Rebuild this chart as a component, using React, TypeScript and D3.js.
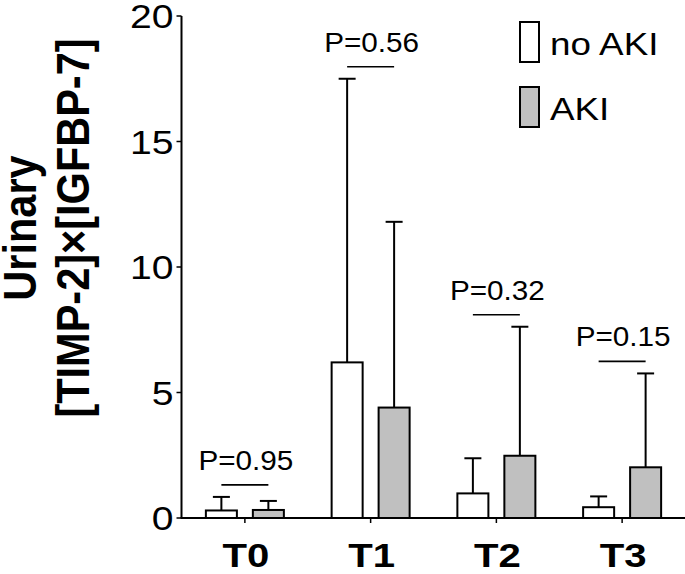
import React from 'react';
import * as d3 from 'd3';

const timepoints = ['T0', 'T1', 'T2', 'T3'];
const groups = ['no AKI', 'AKI'];
const noAkiMean = [0.3, 6.2, 0.98, 0.43];
const noAkiSd = [0.54, 11.3, 1.4, 0.43];
const akiMean = [0.32, 4.4, 2.48, 2.02];
const akiSd = [0.36, 7.4, 5.14, 3.74];
const pValues = ['P=0.95', 'P=0.56', 'P=0.32', 'P=0.15'];
const yTicks = [0, 5, 10, 15, 20];

const W = 685;
const H = 574;
const FONT = '"Liberation Sans", Arial, Helvetica, sans-serif';
const fills = ['#ffffff', '#c0c0c0'];

export default function App() {
  const x = d3.scaleBand<string>().domain(timepoints).range([182, 685]).padding(0);
  const x1 = d3.scaleBand<string>().domain(groups).range([-39, 39]).paddingInner(0.34);
  const y = d3.scaleLinear().domain([0, 20]).range([518, 16]);
  const bw = x1.bandwidth();
  const axisX = 181.5;

  const rows = timepoints.map((t, i) => ({
    t,
    cx: (x(t) ?? 0) + x.bandwidth() / 2,
    bars: [
      { g: groups[0], mean: noAkiMean[i], sd: noAkiSd[i] },
      { g: groups[1], mean: akiMean[i], sd: akiSd[i] },
    ],
    p: pValues[i],
  }));

  return (
    <div style={{ position: 'absolute', left: 0, top: 0 }}>
      <svg width={W} height={H} style={{ display: 'block', background: '#fff' }}>
        {/* y axis title, two rotated lines */}
        <g transform={`translate(36,228) scale(1.13,1) rotate(-90)`}>
          <text textAnchor="middle" fontFamily={FONT} fontWeight="bold" fontSize={41.5} fill="#000">Urinary</text>
        </g>
        <g transform={`translate(89,228) scale(1.13,1) rotate(-90)`}>
          <text textAnchor="middle" fontFamily={FONT} fontWeight="bold" fontSize={41.5} fill="#000">[TIMP-2]×[IGFBP-7]</text>
        </g>

        {/* bars + error bars */}
        {rows.map(r => (
          <g key={r.t}>
            {r.bars.map((b, j) => {
              const left = r.cx + (x1(b.g) ?? 0);
              const mid = left + bw / 2;
              return (
                <g key={b.g}>
                  <line x1={mid} x2={mid} y1={y(b.mean)} y2={y(b.mean + b.sd)} stroke="#000" strokeWidth={2} />
                  <line x1={mid - 8.5} x2={mid + 8.5} y1={y(b.mean + b.sd)} y2={y(b.mean + b.sd)} stroke="#000" strokeWidth={2} />
                  <rect x={left} y={y(b.mean)} width={bw} height={y(0) - y(b.mean)} fill={fills[j]} stroke="#000" strokeWidth={2} />
                </g>
              );
            })}
            {(() => {
              const top = d3.max(r.bars, b => y(0) - y(b.mean + b.sd)) ?? 0;
              const ly = y(0) - top - 12;
              const a = r.cx + (x1(groups[0]) ?? 0) + bw / 2;
              const c = r.cx + (x1(groups[1]) ?? 0) + bw / 2;
              return (
                <g>
                  <line x1={a} x2={c} y1={ly} y2={ly} stroke="#000" strokeWidth={1.6} />
                  <g transform={`translate(${r.cx + 1},${ly - 15}) scale(1.08,1)`}>
                    <text textAnchor="middle" fontFamily={FONT} fontSize={27.5} fill="#000">{r.p}</text>
                  </g>
                </g>
              );
            })()}
          </g>
        ))}

        {/* y axis */}
        <line x1={axisX} x2={axisX} y1={y(20)} y2={y(0)} stroke="#000" strokeWidth={2} />
        {yTicks.map(v => (
          <g key={v}>
            <line x1={axisX - 5} x2={axisX} y1={y(v)} y2={y(v)} stroke="#000" strokeWidth={1.5} />
            <g transform={`translate(${axisX - 8},${y(v) + 12}) scale(1.15,1)`}>
              <text textAnchor="end" fontFamily={FONT} fontSize={34} fill="#000">{v}</text>
            </g>
          </g>
        ))}

        {/* x axis */}
        <line x1={axisX - 1} x2={W} y1={y(0)} y2={y(0)} stroke="#000" strokeWidth={2} />
        {rows.map(r => (
          <g key={r.t}>
            <line x1={r.cx} x2={r.cx} y1={y(0)} y2={y(0) + 5} stroke="#000" strokeWidth={1.5} />
            <g transform={`translate(${r.cx + 1},567) scale(1.18,1)`}>
              <text textAnchor="middle" fontFamily={FONT} fontWeight="bold" fontSize={34} fill="#000">{r.t}</text>
            </g>
          </g>
        ))}

        {/* legend */}
        {groups.map((g, j) => (
          <g key={g} transform={`translate(520,${22 + j * 65})`}>
            <rect x={0} y={0} width={19} height={40} fill={fills[j]} stroke="#000" strokeWidth={2} />
            <g transform={`translate(30,33) scale(1.15,1)`}>
              <text fontFamily={FONT} fontSize={32} fill="#000">{g}</text>
            </g>
          </g>
        ))}
      </svg>
    </div>
  );
}
